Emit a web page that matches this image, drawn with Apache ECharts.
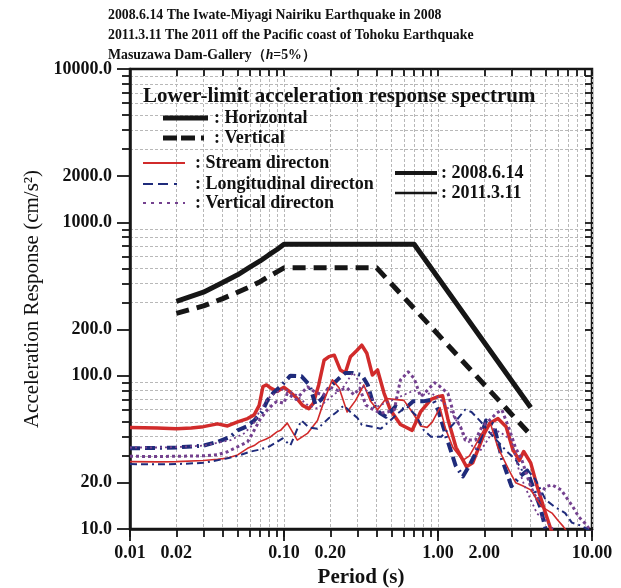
<!DOCTYPE html>
<html>
<head>
<meta charset="utf-8">
<script src="https://cdn.jsdelivr.net/npm/echarts@6/dist/echarts.min.js"></script>
<style>html,body{margin:0;padding:0;background:#fff;}#c{width:621px;height:588px;}</style>
</head>
<body>
<div id="c"></div>
<script>
// ---- tick / label values ----
const xTickValues = [0.01,0.02,0.03,0.04,0.05,0.06,0.07,0.08,0.09,0.1,0.2,0.3,0.4,0.5,0.6,0.7,0.8,0.9,1,2,3,4,5,6,7,8,9,10];
const xMajorValues = [0.01,0.1,1,10];
const xLabelValues = [0.01,0.02,0.1,0.2,1,2,10];
const yTickValues = [10,20,30,40,50,60,70,80,90,100,200,300,400,500,600,700,800,900,1000,2000,3000,4000,5000,6000,7000,8000,9000,10000];
const yLabelValues = [10,20,100,200,1000,2000,10000];
const yMinorValues = [30,40,50,60,70,80,90,300,400,500,600,700,800,900,3000,4000,5000,6000,7000,8000,9000];

// ---- lower-limit acceleration response spectrum ----
const limitH_T = [0.02,0.03,0.04,0.05,0.06,0.07,0.08,0.09,0.1,0.7,4.0];
const limitH_V = [305,350,405,455,510,560,615,665,720,720,62];
const limitV_T = [0.02,0.03,0.04,0.05,0.06,0.07,0.08,0.09,0.1,0.4,4.0];
const limitV_V = [255,285,318,350,380,410,445,475,505,505,41];

// ---- 2008.6.14 ----
const rs08T = [0.01,0.015,0.02,0.025,0.03,0.037,0.043,0.05,0.058,0.064,0.069,0.073,0.077,0.082,0.09,0.1,0.11,0.12,0.132,0.145,0.155,0.168,0.182,0.196,0.212,0.232,0.25,0.27,0.295,0.32,0.345,0.375,0.405,0.446,0.49,0.57,0.68,0.77,0.9,1.0,1.07,1.16,1.31,1.53,1.68,2.0,2.17,2.45,2.77,3.06,3.37,3.6,4.0,4.4,5.0,5.4,5.8];
const rs08V = [46,45.5,45,45.5,46.5,48.5,47,50,52.5,55.5,64,85,87,83,79,84,78,72,64,61,66,87,126,133,136,109,104,133,145,158,140,101,109,77,60,48,44,58,70,73,74,52,34,25.5,27,42,49,52.5,46.5,33,28,32,27,19,12.6,10,8.5];
const ln08T = [0.01,0.015,0.02,0.03,0.037,0.045,0.05,0.057,0.064,0.072,0.078,0.085,0.095,0.11,0.13,0.146,0.16,0.175,0.2,0.225,0.25,0.28,0.32,0.35,0.38,0.42,0.46,0.53,0.6,0.69,0.8,0.93,1.0,1.15,1.3,1.45,1.6,1.75,2.05,2.3,2.62,3.0,3.4,3.8,4.2,4.6,5.0,5.3];
const ln08V = [33.6,33.8,34,35,37,40,44,46.5,51,58,69,77,85,100,99,87,65,70,85,95,104,104,101,87,65,57,54,63,60,68,68,70,60,38,26,22,26,31,51,48,28,19,22,24,18,14,10,8.5];
const vt08T = [0.01,0.015,0.02,0.03,0.037,0.043,0.05,0.058,0.064,0.07,0.078,0.086,0.09,0.1,0.105,0.12,0.142,0.16,0.18,0.196,0.225,0.257,0.285,0.31,0.34,0.38,0.425,0.47,0.52,0.57,0.64,0.7,0.77,0.85,0.95,1.0,1.16,1.28,1.4,1.5,1.75,1.93,2.2,2.4,2.6,2.9,3.17,3.5,4.0,4.4,5.0,5.5,6.3,7.5,8.2,9,10];
const vt08V = [29.8,29.7,29.8,30,30.5,31.9,34.4,37,44,52,59.8,66,67.8,66,76.7,70,84.6,78,74.5,84.6,80,83,75,83,64.4,60,57,58,59.8,93.6,106,96,73,80,90,87,76.7,54,46.5,38,38,46.5,52,57,59.8,45,34.4,28.2,18.9,15.5,18.9,19.4,18,14,12,10.9,9.5];

// ---- 2011.3.11 ----
const rs11T = [0.01,0.015,0.02,0.03,0.037,0.043,0.05,0.058,0.064,0.069,0.076,0.082,0.09,0.095,0.105,0.122,0.142,0.165,0.186,0.206,0.228,0.257,0.292,0.33,0.365,0.405,0.46,0.52,0.6,0.68,0.77,0.85,0.92,1.03,1.12,1.25,1.45,1.6,1.8,2.0,2.2,2.45,2.9,3.2,3.6,4.0,4.7,5.5,6.0,6.5,7.2];
const rs11V = [27.5,27.4,27.5,28,28.5,29,30.4,33.6,35,37,38.5,40,43,44,49,38,42,51,73,94,83,58,69,87,68,60,71,70,69,58,47,46,50,62,45,34,28,30,37,45,48,34,24,20,19,18,14,12.7,11.4,10.4,9];
const ln11T = [0.01,0.015,0.02,0.03,0.043,0.05,0.06,0.07,0.08,0.09,0.098,0.11,0.122,0.13,0.145,0.165,0.196,0.22,0.245,0.27,0.3,0.32,0.375,0.425,0.48,0.55,0.63,0.72,0.81,0.9,1.05,1.25,1.5,1.65,1.9,2.1,2.4,2.8,3.2,3.5,3.8,4.3,5.0,5.7,6.7,7.4,8.3,9.3,10];
const ln11V = [26.5,26.4,26.5,27,28.9,30,31.9,33,34.5,37,39,35,45,51,46,45,53,58,64,58,53,47.7,46.5,45,50,57,63,55,44,40,40,48,60,58,50,44,38,32,28.2,24.3,24.3,21,15.5,14,12.7,11,10.6,10,9.5];
const vt11T = [0.01,0.015,0.02,0.03,0.045,0.055,0.063,0.07,0.08,0.09,0.1,0.12,0.14,0.165,0.2,0.245,0.28,0.31,0.35,0.405,0.45,0.52,0.6,0.7,0.8,0.9,1.0,1.1,1.23,1.4,1.55,1.7,1.9,2.1,2.3,2.6,3.0,3.3,3.6,4.0,4.4,5.0,5.6,6.2];
const vt11V = [34,34,34.2,35,38,42,48,60,72,78,82,75,65,61,72,85,105,90,78,63,66,70,75,80,75,77,72,66,57,46,38,34,32.8,38,45,42,38,25.5,19.8,15.5,12.6,11.4,10,9];

const titleLines = [
  '2008.6.14 The Iwate-Miyagi Nairiku Earthquake in 2008',
  '2011.3.11 The 2011 off the Pacific coast of Tohoku Earthquake'
];

const RED = '#d12b2b', NAVY = '#1f2b7b', PURPLE = '#74418f', BLACK = '#161616';
const SERIF = '"Liberation Serif", "Times New Roman", serif';

function pairs(t, v) { return t.map((x, i) => [x, v[i]]); }

function lineSeries(name, t, v, color, width, type) {
  return {
    name, type: 'line', data: pairs(t, v), showSymbol: false, symbol: 'none',
    xAxisIndex: 0, yAxisIndex: 0, clip: true, silent: true,
    lineStyle: { color, width, type, cap: 'butt', join: 'round' }
  };
}

const chart = echarts.init(document.getElementById('c'), null, { renderer: 'canvas' });

const baseX = { type: 'log', logBase: 10, min: 0.01, max: 10 };
const baseY = { type: 'log', logBase: 10, min: 10, max: 10000 };
const gridLine = { show: true, lineStyle: { color: '#b8b8b8', width: 1, type: [3, 2] } };
const labelFont = { fontFamily: SERIF, fontWeight: 'bold', fontSize: 18, color: '#111' };
const tickStyle = { color: BLACK, width: 1.8 };

function extraX(pos, inside, len, vals) {
  return Object.assign({}, baseX, {
    position: pos, axisLine: { show: false },
    axisTick: { show: true, inside, length: len, customValues: vals, lineStyle: tickStyle },
    axisLabel: { show: false }, splitLine: { show: false }
  });
}
function extraY(pos, inside, len, vals, split) {
  return Object.assign({}, baseY, {
    position: pos, axisLine: { show: false },
    axisTick: { show: true, inside, length: len, customValues: vals, lineStyle: tickStyle },
    axisLabel: { show: false }, splitLine: split ? gridLine : { show: false }
  });
}

const option = {
  animation: false,
  backgroundColor: '#fff',
  grid: {
    left: 130, right: 29, top: 69, bottom: 59, outerBoundsMode: 'none', containLabel: false,
    show: true, borderColor: BLACK, borderWidth: 2.5, backgroundColor: 'transparent'
  },
  xAxis: [
    Object.assign({}, baseX, {
      position: 'bottom',
      name: 'Period (s)', nameLocation: 'middle', nameGap: 37,
      nameTextStyle: { fontFamily: SERIF, fontWeight: 'bold', fontSize: 21, color: '#111' },
      axisLine: { show: true, lineStyle: { color: BLACK, width: 2.5 } },
      axisTick: { show: true, inside: false, length: 8, customValues: xTickValues, lineStyle: tickStyle },
      axisLabel: Object.assign({ customValues: xLabelValues, margin: 15, formatter: v => Number(v).toFixed(2) }, labelFont),
      splitLine: gridLine
    }),
    extraX('top', true, 7, xTickValues),
    extraX('bottom', false, 12, xMajorValues)
  ],
  yAxis: [
    Object.assign({}, baseY, {
      position: 'left',
      name: 'Acceleration Response (cm/s\u00b2)', nameLocation: 'middle', nameGap: 86, nameRotate: 90,
      nameTextStyle: { fontFamily: SERIF, fontWeight: 'normal', fontSize: 21, color: '#111' },
      axisLine: { show: true, lineStyle: { color: BLACK, width: 2.5 } },
      axisTick: { show: true, inside: false, length: 13, customValues: yLabelValues, lineStyle: tickStyle },
      axisLabel: Object.assign({ customValues: yLabelValues, margin: 18, formatter: v => Number(v).toFixed(1) }, labelFont),
      splitLine: { show: false }
    }),
    extraY('left', false, 8, yMinorValues, true),
    extraY('right', true, 7, yTickValues, false)
  ],
  series: [
    lineSeries('Horizontal', limitH_T, limitH_V, BLACK, 5, 'solid'),
    lineSeries('Vertical', limitV_T, limitV_V, BLACK, 5, [13, 8]),
    lineSeries('Stream 2008', rs08T, rs08V, RED, 3.5, 'solid'),
    lineSeries('Longitudinal 2008', ln08T, ln08V, NAVY, 4, [10, 5, 10, 5, 2, 5]),
    lineSeries('Vertical 2008', vt08T, vt08V, PURPLE, 3, [3, 3]),
    lineSeries('Stream 2011', rs11T, rs11V, RED, 1.6, 'solid'),
    lineSeries('Longitudinal 2011', ln11T, ln11V, NAVY, 2, [7, 4, 7, 4, 2, 4]),
    lineSeries('Vertical 2011', vt11T, vt11V, PURPLE, 1.8, [2, 3])
  ],
  graphic: {
    elements: [
      { type: 'text', x: 108, y: 15, z: 100, style: { text: titleLines[0], font: 'bold 13.8px ' + SERIF, fill: '#111', verticalAlign: 'middle' } },
      { type: 'text', x: 108, y: 35, z: 100, style: { text: titleLines[1], font: 'bold 13.8px ' + SERIF, fill: '#111', verticalAlign: 'middle' } },
      { type: 'text', x: 108, y: 55, z: 100, style: {
          text: '{a|Masuzawa Dam-Gallery\uff08}{i|h}{a|=5%\uff09}', verticalAlign: 'middle',
          rich: { a: { font: 'bold 13.8px ' + SERIF, fill: '#111' }, i: { font: 'italic bold 13.8px ' + SERIF, fill: '#111' } } } },

      { type: 'text', x: 143, y: 97, z: 100, style: { text: 'Lower-limit acceleration response spectrum', font: 'bold 21px ' + SERIF, fill: '#111', verticalAlign: 'middle' } },
      { type: 'line', z: 100, shape: { x1: 163, y1: 118, x2: 208, y2: 118 }, style: { stroke: BLACK, lineWidth: 5 } },
      { type: 'text', x: 214, y: 118, z: 100, style: { text: ': Horizontal', font: 'bold 18px ' + SERIF, fill: '#111', verticalAlign: 'middle' } },
      { type: 'line', z: 100, shape: { x1: 163, y1: 138, x2: 208, y2: 138 }, style: { stroke: BLACK, lineWidth: 5, lineDash: [14, 4, 14, 6, 3, 10] } },
      { type: 'text', x: 214, y: 138, z: 100, style: { text: ': Vertical', font: 'bold 18px ' + SERIF, fill: '#111', verticalAlign: 'middle' } },

      { type: 'line', z: 100, shape: { x1: 143, y1: 163, x2: 185, y2: 163 }, style: { stroke: RED, lineWidth: 2 } },
      { type: 'text', x: 195, y: 163, z: 100, style: { text: ': Stream directon', font: 'bold 18px ' + SERIF, fill: '#111', verticalAlign: 'middle' } },
      { type: 'line', z: 100, shape: { x1: 143, y1: 184, x2: 185, y2: 184 }, style: { stroke: NAVY, lineWidth: 2, lineDash: [10, 5, 10, 6, 3, 10] } },
      { type: 'text', x: 195, y: 184, z: 100, style: { text: ': Longitudinal directon', font: 'bold 18px ' + SERIF, fill: '#111', verticalAlign: 'middle' } },
      { type: 'line', z: 100, shape: { x1: 143, y1: 203, x2: 185, y2: 203 }, style: { stroke: PURPLE, lineWidth: 2, lineDash: [3, 5] } },
      { type: 'text', x: 195, y: 203, z: 100, style: { text: ': Vertical directon', font: 'bold 18px ' + SERIF, fill: '#111', verticalAlign: 'middle' } },

      { type: 'line', z: 100, shape: { x1: 395, y1: 173, x2: 437, y2: 173 }, style: { stroke: BLACK, lineWidth: 4 } },
      { type: 'text', x: 441, y: 173, z: 100, style: { text: ': 2008.6.14', font: 'bold 18px ' + SERIF, fill: '#111', verticalAlign: 'middle' } },
      { type: 'line', z: 100, shape: { x1: 395, y1: 193, x2: 437, y2: 193 }, style: { stroke: BLACK, lineWidth: 2.5 } },
      { type: 'text', x: 441, y: 193, z: 100, style: { text: ': 2011.3.11', font: 'bold 18px ' + SERIF, fill: '#111', verticalAlign: 'middle' } }
    ]
  }
};
chart.setOption(option);
</script>
</body>
</html>
